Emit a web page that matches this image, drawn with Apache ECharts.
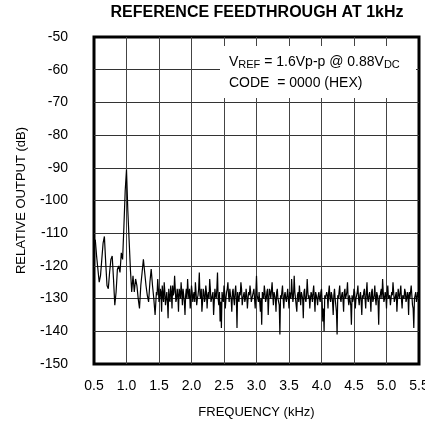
<!DOCTYPE html>
<html><head><meta charset="utf-8">
<script src="https://cdn.jsdelivr.net/npm/echarts@6/dist/echarts.min.js"></script>
<style>html,body{margin:0;padding:0;background:#fff;overflow:hidden}#c{width:425px;height:427px}</style>
</head><body><div id="c"></div>
<script>
const chartTitle = 'REFERENCE FEEDTHROUGH AT 1kHz';
const xAxisTitle = 'FREQUENCY (kHz)';
const yAxisTitle = 'RELATIVE OUTPUT (dB)';
const xTickLabels = ['0.5','1.0','1.5','2.0','2.5','3.0','3.5','4.0','4.5','5.0','5.5'];
const yTickLabels = ['-150','-140','-130','-120','-110','-100','-90','-80','-70','-60','-50'];
const noteLine1 = ['V', 'REF', ' = 1.6Vp-p @ 0.88V', 'DC'];
const noteLine2 = 'CODE  = 0000 (HEX)';

// near the 1 kHz tone: sampled every 0.02 kHz from 0.50 to 1.46 kHz
const nearStartKHz = 0.5;
const nearStepKHz = 0.02;
const nearCarrierDb = [
  -113,-112,-117,-121,-125,-123,-118,-113,-111,-119,
  -126,-127,-122,-118,-117,-124,-132,-128,-121,-120,
  -122,-116,-118,-108,-97,-90.5,-103,-112,-121,-128,
  -123,-128,-124,-126,-130,-133,-126,-122,-118,-122,
  -126,-129,-131,-125,-121,-126,-130,-135,-128
];
// noise floor: sampled every 0.01 kHz from 1.47 to 5.50 kHz
const floorStartKHz = 1.47;
const floorStepKHz = 0.01;
const noiseFloorDb = [
  -129,-124,-127,-131,-130,-127,-128,-134,-126,-129,-131,-125,-128,-132,-130,-128,-131,-136,-127,-130,
  -131,-126,-128,-133,-126,-129,-128,-123,-127,-131,-130,-127,-129,-134,-127,-128,-130,-125,-128,-132,
  -127,-129,-131,-135,-129,-127,-130,-124,-128,-130,-127,-133,-130,-126,-128,-131,-129,-128,-131,-125,
  -128,-132,-130,-129,-127,-122,-129,-130,-127,-134,-131,-127,-128,-131,-130,-126,-128,-133,-129,-128,
  -130,-124,-127,-131,-130,-129,-128,-135,-131,-127,-129,-130,-127,-122,-130,-132,-128,-137,-131,-139,
  -128,-130,-131,-126,-128,-133,-130,-128,-127,-125,-129,-131,-127,-129,-130,-134,-128,-127,-130,-132,
  -128,-126,-130,-139,-128,-130,-131,-128,-129,-125,-127,-132,-130,-129,-128,-131,-130,-127,-129,-133,
  -130,-128,-129,-126,-128,-131,-130,-129,-128,-127,-130,-133,-128,-123,-129,-130,-131,-128,-128,-134,
  -130,-138,-128,-129,-130,-126,-128,-131,-130,-128,-127,-135,-130,-127,-128,-130,-130,-125,-129,-132,
  -128,-129,-130,-134,-128,-127,-130,-131,-132,-141,-129,-130,-128,-126,-130,-133,-129,-128,-130,-131,
  -129,-127,-130,-133,-128,-129,-130,-124,-128,-131,-129,-123,-128,-130,-130,-134,-129,-128,-131,-126,
  -129,-132,-128,-129,-130,-136,-128,-127,-130,-131,-129,-124,-128,-130,-129,-133,-130,-128,-129,-131,
  -128,-126,-130,-134,-128,-129,-130,-132,-129,-128,-130,-131,-128,-127,-131,-137,-133,-140,-129,-130,
  -130,-128,-129,-133,-128,-126,-130,-131,-128,-129,-131,-135,-129,-127,-130,-132,-134,-141,-129,-130,
  -128,-126,-130,-131,-129,-128,-130,-134,-128,-127,-130,-130,-128,-125,-130,-132,-129,-129,-132,-138,
  -129,-131,-130,-127,-128,-133,-130,-129,-128,-126,-130,-132,-129,-128,-131,-135,-129,-130,-128,-127,
  -130,-133,-128,-125,-130,-131,-129,-128,-130,-134,-128,-127,-131,-130,-129,-126,-130,-132,-128,-129,
  -131,-138,-129,-130,-128,-127,-130,-124,-128,-131,-130,-128,-129,-133,-128,-126,-130,-130,-129,-132,
  -130,-128,-129,-125,-128,-131,-130,-129,-128,-134,-130,-127,-129,-130,-128,-126,-130,-133,-129,-129,
  -130,-127,-128,-131,-130,-128,-129,-135,-128,-130,-130,-126,-129,-132,-133,-139,-130,-129,-128,-131,
  -130,-128,-129,-130
];

const traceData = nearCarrierDb.map((v, i) => [+(nearStartKHz + i * nearStepKHz).toFixed(2), v])
  .concat(noiseFloorDb.map((v, i) => [+(floorStartKHz + i * floorStepKHz).toFixed(2), v]));

const FONT = 'Liberation Sans, Arial, Helvetica, sans-serif';
const chart = echarts.init(document.getElementById('c'), null, {renderer: 'canvas'});
chart.setOption({
  backgroundColor: '#fff',
  animation: false,
  title: {
    text: chartTitle,
    left: 257, top: 5, padding: 0, textAlign: 'center',
    textStyle: {fontFamily: FONT, fontSize: 16, fontWeight: 'bold', color: '#000'}
  },
  grid: {left: 94, top: 37, width: 325, height: 327, show: true, borderColor: '#000', borderWidth: 3,
    backgroundColor: 'transparent', containLabel: false, outerBoundsMode: 'none'},
  xAxis: {
    type: 'value', min: 0.5, max: 5.5, interval: 0.5,
    name: xAxisTitle, nameLocation: 'middle', nameGap: 42,
    nameTextStyle: {fontFamily: FONT, fontSize: 13, color: '#000'},
    axisLine: {show: false}, axisTick: {show: false},
    axisLabel: {margin: 15, fontFamily: FONT, fontSize: 14, color: '#000', hideOverlap: false,
      formatter: v => xTickLabels[Math.round((v - 0.5) / 0.5)]},
    splitLine: {show: true, showMinLine: false, showMaxLine: false, lineStyle: {color: '#444', width: 1}}
  },
  yAxis: {
    type: 'value', min: -150, max: -50, interval: 10,
    name: yAxisTitle, nameLocation: 'middle', nameGap: 66, nameMoveOverlap: false,
    nameTextStyle: {fontFamily: FONT, fontSize: 13, color: '#000'},
    axisLine: {show: false}, axisTick: {show: false},
    axisLabel: {margin: 26, fontFamily: FONT, fontSize: 14, color: '#000',
      formatter: v => yTickLabels[Math.round((v + 150) / 10)]},
    splitLine: {show: true, showMinLine: false, showMaxLine: false, lineStyle: {color: '#333', width: 1}}
  },
  series: [{
    type: 'line', data: traceData, showSymbol: false, symbol: 'none',
    lineStyle: {color: '#000', width: 1.2}, clip: true, z: 3
  }],
  graphic: [
    {type: 'rect', z: 50, shape: {x: 220, y: 46, width: 196, height: 52}, style: {fill: '#fff'}},
    {type: 'text', z: 51, left: 229, top: 55,
      style: {
        text: '{n|' + noteLine1[0] + '}{s|' + noteLine1[1] + '}{n|' + noteLine1[2] + '}{s|' + noteLine1[3] + '}',
        rich: {
          n: {fontFamily: FONT, fontSize: 14, lineHeight: 16, verticalAlign: 'middle', fill: '#000'},
          s: {fontFamily: FONT, fontSize: 11, lineHeight: 9, verticalAlign: 'bottom', fill: '#000'}
        }
      }},
    {type: 'text', z: 51, left: 229, top: 76,
      style: {text: noteLine2, font: '14px ' + FONT, fill: '#000'}}
  ]
});
</script></body></html>
